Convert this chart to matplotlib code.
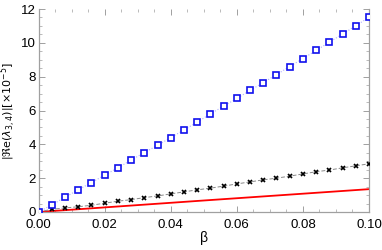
import numpy as np
import matplotlib.pyplot as plt
from matplotlib.ticker import MultipleLocator

# beta values shared by the two sampled series
beta = [0.000, 0.004, 0.008, 0.012, 0.016, 0.020, 0.024, 0.028, 0.032,
        0.036, 0.040, 0.044, 0.048, 0.052, 0.056, 0.060, 0.064, 0.068,
        0.072, 0.076, 0.080, 0.084, 0.088, 0.092, 0.096, 0.100]

# blue squares
re_squares = [0.00, 0.42, 0.87, 1.31, 1.74, 2.18, 2.61, 3.07, 3.51,
              3.94, 4.40, 4.85, 5.31, 5.80, 6.26, 6.71, 7.19, 7.65,
              8.12, 8.60, 9.07, 9.55, 10.04, 10.52, 11.01, 11.51]

# black crosses
re_crosses = [0.00, 0.16, 0.24, 0.31, 0.40, 0.52, 0.64, 0.73, 0.85,
              0.95, 1.07, 1.19, 1.31, 1.41, 1.53, 1.66, 1.78, 1.90,
              2.00, 2.12, 2.25, 2.38, 2.48, 2.61, 2.73, 2.85]

# red curve
beta_line = [0.0, 0.05, 0.10]
re_line = [0.0, 0.68, 1.35]

plt.rcParams['font.family'] = ['Liberation Sans', 'DejaVu Sans']
plt.rcParams['mathtext.fontset'] = 'dejavusans'

fig = plt.figure(figsize=(3.82, 2.5), dpi=100)
ax = fig.add_axes([0.101, 0.152, 0.865, 0.812])

ax.plot(beta_line, re_line, color='#ff0000', lw=1.3, zorder=2)
ax.plot(beta, re_crosses, color='#888888', lw=0.7, ls=(0, (4, 2)), zorder=2)
ax.plot(beta, re_crosses, ls='none', marker='x', color='black',
        markersize=3.5, mew=1.2, zorder=3)
ax.plot(beta, re_squares, color='#b0b0ff', lw=0.8, ls=':', zorder=2)
ax.plot(beta, re_squares, ls='none', marker='s', markerfacecolor='white',
        markeredgecolor='#1010ee', markersize=4.5, mew=1.2, zorder=3)

ax.set_xlim(0, 0.1)
ax.set_ylim(0, 12)
ax.xaxis.set_major_locator(MultipleLocator(0.02))
ax.xaxis.set_minor_locator(MultipleLocator(0.005))
ax.yaxis.set_major_locator(MultipleLocator(2))
ax.yaxis.set_minor_locator(MultipleLocator(0.5))
ax.xaxis.set_major_formatter(plt.FormatStrFormatter('%.2f'))

for s in ax.spines.values():
    s.set_color('#a0a0a0')
    s.set_linewidth(0.9)
ax.spines['top'].set_visible(False)

ax.tick_params(which='both', direction='in', top=True, right=True,
               color='#a0a0a0', labelsize=9.5)
ax.tick_params(axis='x', pad=5)
ax.tick_params(axis='y', pad=2)
ax.tick_params(which='major', length=4, width=0.7)
ax.tick_params(which='minor', length=2, width=0.5)

ax.set_xlabel('β', fontsize=10, labelpad=0)
ax.set_ylabel(r'$|\Re\mathrm{e}(\lambda_{3,4})|[\times10^{-5}]$', fontsize=8)
ax.yaxis.set_label_coords(-0.062, 0.5)

fig.savefig('out.png', dpi=100)
